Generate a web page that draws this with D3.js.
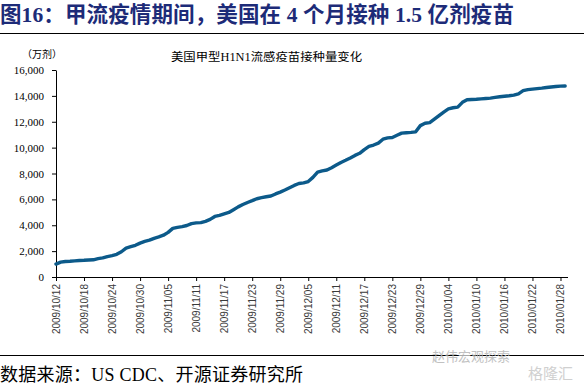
<!DOCTYPE html>
<html><head><meta charset="utf-8">
<script src="https://cdn.jsdelivr.net/npm/d3@7/dist/d3.min.js"></script>
<style>
html,body{margin:0;padding:0;background:#fff;}
svg{display:block;}
</style></head>
<body>
<svg id="c" width="584" height="384"></svg>
<script>
// ---- data ----
const startDate = "2009-10-12";
const values = [
 1000,1150,1200,1220,1250,1280,1290,1310,1330,1420,
 1480,1580,1650,1750,1950,2230,2340,2450,2620,2750,
 2850,2990,3100,3230,3450,3760,3840,3890,3980,4130,
 4180,4200,4300,4450,4680,4760,4880,4990,5200,5420,
 5600,5760,5900,6050,6130,6200,6260,6420,6560,6720,
 6900,7080,7230,7280,7380,7700,8100,8200,8270,8450,
 8650,8850,9020,9200,9400,9560,9850,10100,10200,10350,
 10650,10750,10780,10950,11120,11150,11180,11220,11700,11880,
 11930,12200,12480,12750,13000,13080,13130,13500,13700,13720,
 13740,13770,13800,13830,13880,13930,13970,14010,14060,14160,
 14400,14480,14520,14560,14600,14650,14690,14720,14750,14760
];
const xTickLabels = ["2009/10/12","2009/10/18","2009/10/24","2009/10/30","2009/11/05","2009/11/11","2009/11/17","2009/11/23","2009/11/29","2009/12/05","2009/12/11","2009/12/17","2009/12/23","2009/12/29","2010/01/04","2010/01/10","2010/01/16","2010/01/22","2010/01/28"];
const yTicks = [0,2000,4000,6000,8000,10000,12000,14000,16000];
const titleText = "图16：甲流疫情期间，美国在 4 个月接种 1.5 亿剂疫苗";
const chartTitle = "美国甲型H1N1流感疫苗接种量变化";
const unitText = "（万剂）";
const sourceText = "数据来源：US CDC、开源证券研究所";

// ---- build ----
const parse = d3.timeParse("%Y-%m-%d");
const parseTick = d3.timeParse("%Y/%m/%d");
const fmtTick = d3.timeFormat("%Y/%m/%d");
const t0 = parse(startDate);
const data = values.map((v,i)=>({date:d3.timeDay.offset(t0,i), value:v}));

const svg = d3.select("#c");
const serif = "'Liberation Serif','Times New Roman','Noto Sans CJK SC',serif";
const sans = "'Liberation Sans',Arial,sans-serif";

// title
svg.append("text").attr("x",0).attr("y",22)
  .attr("font-family",serif).attr("font-weight","bold").attr("font-size",21.5)
  .attr("fill","#1d2b78").attr("textLength",514).attr("lengthAdjust","spacing").text(titleText);
svg.append("line").attr("x1",0).attr("x2",584).attr("y1",33.5).attr("y2",33.5)
  .attr("stroke","#000").attr("stroke-width",1.2);

// chart title & unit
svg.append("text").attr("x",171).attr("y",60.5)
  .attr("font-family",serif).attr("font-size",11.5).attr("fill","#000")
  .attr("textLength",191).attr("lengthAdjust","spacingAndGlyphs").text(chartTitle);
svg.append("text").attr("x",42).attr("y",58).attr("text-anchor","middle")
  .attr("font-family",serif).attr("font-size",10).attr("fill","#000").text(unitText);

const x = d3.scaleTime()
  .domain([t0, d3.timeHour.offset(t0, 109.5*24)])
  .range([56,567.5]);
const y = d3.scaleLinear().domain([0,16000]).range([277,70]);

// y axis
const ya = svg.append("g").attr("transform","translate(56,0)")
  .call(d3.axisLeft(y).tickValues(yTicks).tickFormat(d3.format(",")).tickSize(4).tickSizeOuter(0));
ya.select(".domain").attr("stroke","#000");
ya.selectAll(".tick line").attr("stroke","#000");
ya.selectAll("text").attr("font-family",serif).attr("font-size",11).attr("fill","#000").attr("x",-12);

// x axis
const xa = svg.append("g").attr("transform","translate(0,277)")
  .call(d3.axisBottom(x).tickValues(xTickLabels.map(parseTick)).tickFormat(fmtTick).tickSize(4).tickSizeOuter(0));
xa.select(".domain").attr("stroke","#000");
xa.selectAll(".tick line").attr("stroke","#000");
xa.selectAll("text")
  .attr("font-family",sans).attr("font-size",10).attr("fill","#3a3a3a")
  .attr("transform","rotate(-90)").attr("text-anchor","end")
  .attr("x",-7).attr("y",0).attr("dy","0.35em");

// line
svg.append("path").datum(data)
  .attr("fill","none").attr("stroke","#0c5a8a").attr("stroke-width",3.4)
  .attr("stroke-linejoin","round").attr("stroke-linecap","round")
  .attr("d", d3.line().x(d=>x(d.date)).y(d=>y(d.value)));

// footer
svg.append("line").attr("x1",0).attr("x2",584).attr("y1",355.5).attr("y2",355.5)
  .attr("stroke","#000").attr("stroke-width",1.2);
svg.append("text").attr("x",0).attr("y",381)
  .attr("font-family",serif).attr("font-size",18).attr("fill","#000")
  .attr("textLength",303).attr("lengthAdjust","spacing").text(sourceText);

// watermark
svg.append("text").attr("x",432).attr("y",361)
  .attr("font-family","'Noto Sans CJK SC',sans-serif").attr("font-size",13).attr("fill","#bbb").attr("opacity",0.9).text("赵伟宏观探索");
svg.append("text").attr("x",528).attr("y",379)
  .attr("font-family","'Noto Sans CJK SC',sans-serif").attr("font-size",15).attr("fill","#ccc").attr("opacity",0.9).text("格隆汇");
</script>
</body></html>
